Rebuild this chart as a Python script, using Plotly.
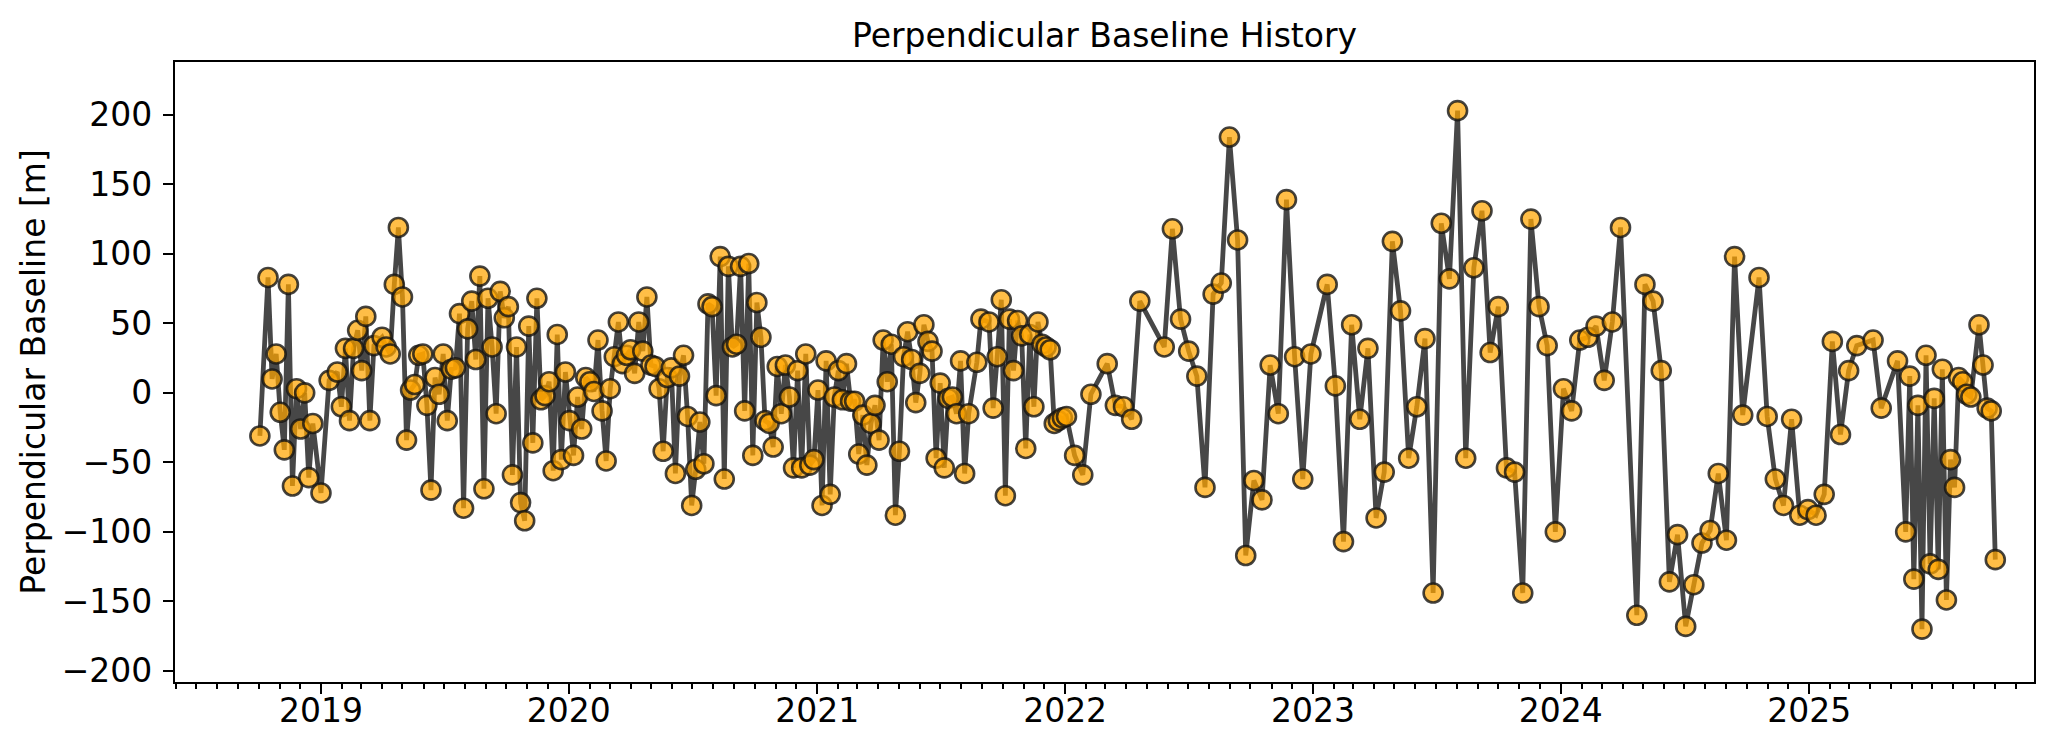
import pandas as pd
import plotly.graph_objects as go

# ---------------- data ----------------
first_acquisition = "2018-10-03"
repeat_days = 6  # acquisition cycle length

# acquisition index (in 6-day cycles after the first acquisition)
cycle = [
    0, 2, 3, 4, 5, 6, 7, 8, 9, 10, 11, 12, 13, 15, 17, 19, 20, 21, 22, 23,
    24, 25, 26, 27, 28, 30, 31, 32, 33, 34, 35, 36, 37, 38, 39, 40, 41, 42, 43, 44,
    45, 46, 47, 48, 49, 50, 51, 52, 53, 54, 55, 56, 57, 58, 59, 60, 61, 62, 63, 64,
    65, 66, 67, 68, 69, 70, 71, 72, 73, 74, 75, 76, 77, 78, 79, 80, 81, 82, 83, 84,
    85, 86, 87, 88, 89, 90, 91, 92, 93, 94, 95, 96, 97, 98, 99, 100, 101, 102, 103, 104,
    105, 106, 107, 108, 109, 110, 111, 112, 113, 114, 115, 116, 117, 118, 119, 120, 121, 122, 123, 124,
    125, 126, 127, 128, 129, 130, 131, 132, 133, 134, 135, 136, 137, 138, 139, 140, 141, 142, 143, 144,
    145, 146, 147, 148, 149, 150, 151, 152, 153, 154, 155, 156, 157, 158, 159, 160, 161, 162, 163, 164,
    165, 166, 167, 168, 169, 170, 171, 172, 173, 174,
    176, 177, 179, 180, 181, 182, 183, 184, 185, 186, 187, 188, 189, 190, 191, 192, 193, 194, 195, 196, 197, 198,
    200, 202, 204, 208, 210, 212, 214, 216, 222, 224, 226, 228, 230, 232, 234, 236, 238, 240, 242, 244, 246, 248, 250,
    252, 254, 256, 258, 262, 264, 266, 268, 270, 272, 274, 276, 278, 280, 282, 284, 286, 288, 290, 292, 294, 296, 298, 300,
    302, 304, 306, 308, 310, 312, 314, 316, 318, 320, 322, 324, 326, 328, 330, 332, 334, 338, 340, 342, 344,
    346, 348, 350, 352, 354, 356, 358, 360, 362, 364, 368, 370, 372, 374, 376, 378, 380, 382, 384,
    386, 388, 390, 392, 396, 398, 402, 404, 405, 406, 407, 408, 409, 410, 411, 412, 413, 414, 415, 416,
    417, 418, 419, 420, 422, 423, 424, 425, 426,
]

# perpendicular baseline [m]
baseline_m = [
    -31, 83, 10, 28, -14, -41, 78, -67, 3, -26, 0, -61, -22, -72, 9, 15, -10, 32, -20, 32,
    45, 16, 55, -20, 34, 40, 33, 28, 78, 119, 69, -34, 2, 6, 27, 28, -9, -70, 11, -1,
    28, -20, 17, 18, 57, -83, 46, 66, 24, 84, -69, 68, 33, -15, 73, 54, 62, -59, 33, -79,
    -92, 48, -36, 68, -5, -2, 8, -56, 42, -48, 15, -20, -45, -3, -26, 11, 8, 1, 38, -13,
    -49, 3, 26, 51, 21, 27, 31, 14, 51, 30, 69, 20, 19, 3, -42, 11, 18, -58, 12, 27,
    -17, -81, -55, -21, -51, 64, 62, -2, 98, -62, 91, 33, 35, 91, -13, 93, -45, 65, 40, -20,
    -22, -39, 19, -15, 20, -3, -54, 16, -54, 28, -52, -48, 2, -81, 23, -73, -3, 16, -5, 21,
    -6, -6, -44, -16, -52, -22, -9, -34, 38, 8, 35, -88, -42, 26, 44, 24, -7, 14, 49, 37,
    30, -47, 7, -54, -4, -3, -15, 23, -58, -15,
    22, 53, 51, -11, 26, 67, -74, 53, 16, 52, 41, -40, 42, -10, 51, 35, 33, 31, -22, -20, -18, -17,
    -45, -59, -1, 21, -9, -10, -19, 66, 33, 118, 53, 30, 12, -68, 71, 79, 184, 110, -117, -63, -77, 20, -15,
    139, 26, -62, 28, 78, 5, -107, 49, -19, 32, -90, -57, 109, 59, -47, -10, 39, -144, 122, 82, 203, -47, 90, 131,
    29, 62, -54, -57, -144, 125, 62, 34, -100, 3, -13, 38, 40, 48, 9, 51, 119, -160, 78, 66, 16,
    -136, -102, -168, -138, -108, -99, -58, -106, 98, -16, 83, -17, -62, -81, -19, -88, -84, -88, -73,
    37, -30, 16, 34, 38, -11, 23, -100, 12, -134, -9, -170, 27, -123, -4, -127, 17, -149, -48, -68,
    11, 8, -1, -3, 49, 20, -11, -13, -120,
]

y_ticks = [-200, -150, -100, -50, 0, 50, 100, 150, 200]
x_range = ["2018-05-31", "2025-11-28"]
y_range = [-208, 238]

assert len(cycle) == len(baseline_m)

dates = pd.to_datetime(first_acquisition) + pd.to_timedelta(
    [c * repeat_days for c in cycle], unit="D"
)

# ---------------- figure ----------------
FONT = "DejaVu Sans"
# the page body adds an 8 px margin, so the figure is 8 px smaller than the window
FIG_W, FIG_H = 2047, 742

fig = go.Figure()
fig.add_trace(
    go.Scatter(
        x=dates,
        y=baseline_m,
        mode="lines+markers",
        line=dict(color="#474747", width=4.8),
        marker=dict(
            size=19,
            color="rgba(255,165,0,0.72)",
            line=dict(color="rgba(20,20,20,0.8)", width=2.6),
        ),
        showlegend=False,
    )
)

fig.update_layout(
    width=FIG_W,
    height=FIG_H,
    margin=dict(l=167, r=21, t=54, b=68),
    paper_bgcolor="white",
    plot_bgcolor="white",
    font=dict(family=FONT, size=33, color="black"),
    title=dict(
        text="Perpendicular Baseline History",
        x=0.5,
        xref="paper",
        xanchor="center",
        y=1 - 27 / FIG_H,
        yref="container",
        yanchor="middle",
        font=dict(family=FONT, size=33, color="black"),
    ),
)

fig.update_xaxes(
    type="date",
    range=x_range,
    tick0="2019-01-01",
    dtick="M12",
    tickformat="%Y",
    ticks="outside",
    ticklen=10,
    tickwidth=2.2,
    tickcolor="black",
    ticklabelstandoff=-12,
    showline=True,
    linecolor="black",
    linewidth=2.2,
    mirror=True,
    showgrid=False,
    zeroline=False,
    tickfont=dict(family=FONT, size=33),
    minor=dict(
        tick0="2019-01-01",
        dtick="M1",
        ticks="outside",
        ticklen=5,
        tickwidth=1.6,
        tickcolor="black",
        showgrid=False,
    ),
)

fig.update_yaxes(
    range=y_range,
    tickvals=y_ticks,
    ticks="outside",
    ticklen=10,
    tickwidth=2.2,
    tickcolor="black",
    ticklabelstandoff=4,
    showline=True,
    linecolor="black",
    linewidth=2.2,
    mirror=True,
    showgrid=False,
    zeroline=False,
    tickfont=dict(family=FONT, size=33),
    title=dict(
        text="Perpendicular Baseline [m]",
        font=dict(family=FONT, size=33),
        standoff=6,
    ),
)

fig.write_html("out.html")
